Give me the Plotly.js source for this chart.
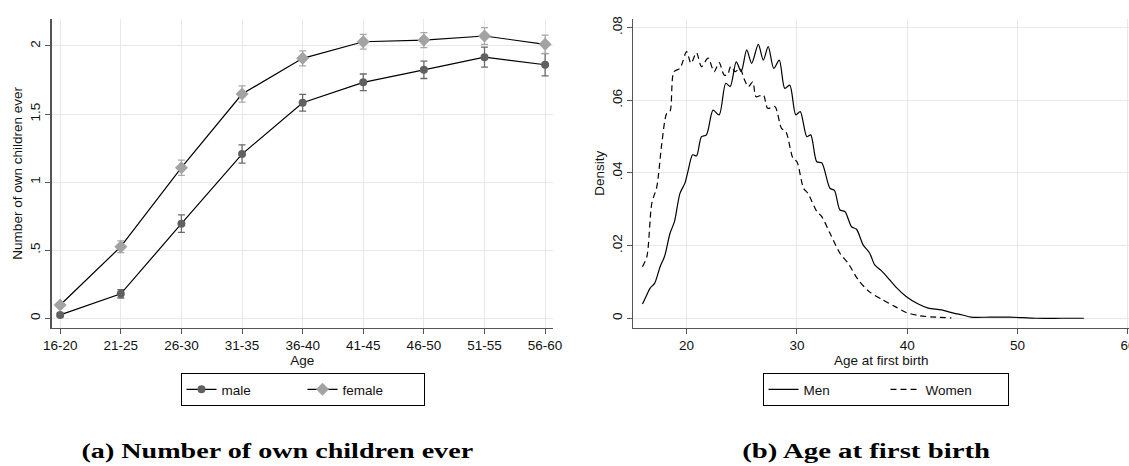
<!DOCTYPE html>
<html>
<head>
<meta charset="utf-8">
<script src="https://cdn.plot.ly/plotly-3.0.1.min.js"></script>
<style>
html,body{margin:0;padding:0;background:#fff;}
#chart{width:1129px;height:466px;}
</style>
</head>
<body>
<div id="chart"></div>
<script>
// ---- Panel (a): number of own children ever ----
const ageGroups = ["16-20","21-25","26-30","31-35","36-40","41-45","46-50","51-55","56-60"];
const maleMean   = [0.025, 0.18, 0.695, 1.206, 1.583, 1.733, 1.825, 1.918, 1.862];
const maleCI     = [0.012, 0.031, 0.064, 0.067, 0.062, 0.061, 0.064, 0.073, 0.081];
const femaleMean = [0.098, 0.526, 1.106, 1.647, 1.909, 2.031, 2.043, 2.073, 2.012];
const femaleCI   = [0.015, 0.043, 0.056, 0.060, 0.055, 0.054, 0.055, 0.062, 0.067];
const yTicksA = [0, 0.5, 1, 1.5, 2];
const yTickTextA = ["0", ".5", "1", "1.5", "2"];

// ---- Panel (b): age at first birth (kernel density) ----
const menAge = [16.0,16.4,16.7,17.1,17.6,18.0,18.5,18.9,19.4,19.85,20.15,20.55,20.9,21.35,21.8,22.4,22.95,23.55,23.95,24.5,24.95,25.45,25.9,26.5,26.95,27.4,27.9,28.4,28.9,29.35,29.9,30.3,30.9,31.25,31.8,32.25,33.0,33.4,33.9,34.35,34.95,35.4,36.0,36.6,37.05,37.65,38.4,39.0,39.9,41.0,41.9,43.1,44.2,45.0,45.8,47.5,49.3,51.7,54.0,56.0];
const menDensity = [0.0039,0.0065,0.0083,0.0096,0.0142,0.017,0.0234,0.0266,0.0344,0.0372,0.0408,0.045,0.0447,0.050,0.0505,0.0573,0.056,0.0647,0.0638,0.0706,0.0679,0.0739,0.0702,0.0754,0.0711,0.0748,0.0688,0.0711,0.0633,0.0642,0.056,0.0569,0.050,0.0505,0.0431,0.0428,0.0358,0.0352,0.0298,0.0294,0.0252,0.0245,0.0202,0.0179,0.0147,0.0131,0.0106,0.0085,0.006,0.0039,0.0028,0.0023,0.0014,0.0009,0.0003,0.0003,0.0003,0.0,0.0,0.0];
const womenAge = [16.0,16.4,16.85,17.3,17.75,18.2,18.5,18.85,19.4,20.0,20.4,20.9,21.35,21.95,22.5,22.95,23.4,23.7,24.0,24.4,24.85,25.2,25.6,26.0,26.3,26.95,27.35,28.0,28.6,29.0,29.65,30.0,30.6,31.0,31.8,32.25,33.0,33.9,34.65,35.55,36.6,37.7,38.9,39.9,41.1,42.6,44.0];
const womenDensity = [0.0142,0.017,0.0317,0.0362,0.048,0.0564,0.057,0.0679,0.0688,0.0734,0.0702,0.0731,0.0693,0.0716,0.0679,0.0704,0.067,0.067,0.0693,0.0679,0.0688,0.066,0.0638,0.0651,0.061,0.0615,0.0578,0.0583,0.0523,0.0514,0.044,0.0431,0.0358,0.0344,0.0294,0.028,0.0234,0.0179,0.0151,0.0106,0.0072,0.0052,0.0032,0.0016,0.0007,0.0003,0.0001];
const yTicksB = [0, 0.02, 0.04, 0.06, 0.08];
const yTickTextB = ["0", ".02", ".04", ".06", ".08"];
const xTicksB = [20, 30, 40, 50, 60];

const captionA = "(a) Number of own children ever";
const captionB = "(b) Age at first birth";

const FONT = "Liberation Sans, Arial, Helvetica, sans-serif";
const SERIF = "Liberation Serif, Times New Roman, serif";
const FS = 13.5;
const gridC = "#e8e8e8";
const axisC = "#555555";

const traces = [
  {x: ageGroups, y: maleMean, name: "male", type: "scatter", mode: "lines+markers",
   xaxis: "x", yaxis: "y", legend: "legend",
   line: {color: "#000", width: 1.2},
   marker: {symbol: "circle", size: 8, color: "#606060"},
   error_y: {type: "data", array: maleCI, visible: true, color: "#6a6a6a", thickness: 1.3, width: 3.5}},
  {x: ageGroups, y: femaleMean, name: "female", type: "scatter", mode: "lines+markers",
   xaxis: "x", yaxis: "y", legend: "legend",
   line: {color: "#000", width: 1.2},
   marker: {symbol: "diamond", size: 10, color: "#a3a3a3"},
   error_y: {type: "data", array: femaleCI, visible: true, color: "#a8a8a8", thickness: 1.3, width: 3.5}},
  {x: menAge, y: menDensity, name: "Men", type: "scatter", mode: "lines",
   xaxis: "x2", yaxis: "y2", legend: "legend2",
   line: {color: "#000", width: 1.2, shape: "spline", smoothing: 0.8}},
  {x: womenAge, y: womenDensity, name: "Women", type: "scatter", mode: "lines",
   xaxis: "x2", yaxis: "y2", legend: "legend2",
   line: {color: "#000", width: 1.2, dash: "6px,4px", shape: "spline", smoothing: 0.8}}
];

const W = 1129, H = 466;
const yDom = [1 - 327.7 / H, 1 - 19 / H];

const commonAxis = {
  showgrid: true, gridcolor: gridC, gridwidth: 1,
  showline: true, linecolor: axisC, linewidth: 1.3,
  ticks: "outside", ticklen: 5, tickcolor: axisC, tickwidth: 1,
  zeroline: false, tickfont: {family: FONT, size: FS, color: "#111"},
  fixedrange: true
};

const legendCommon = {
  orientation: "h", xanchor: "center", y: 1 - 373 / H, yanchor: "top",
  bordercolor: "#000", borderwidth: 1, bgcolor: "#fff",
  entrywidthmode: "pixels",
  font: {family: FONT, size: FS, color: "#111"}, itemclick: false, itemdoubleclick: false
};

const layout = {
  width: W, height: H,
  margin: {l: 0, r: 0, t: 0, b: 0},
  paper_bgcolor: "#fff", plot_bgcolor: "#fff",
  font: {family: FONT, size: FS, color: "#111"},
  xaxis: Object.assign({}, commonAxis, {
    domain: [51.7 / W, 553 / W], anchor: "y",
    type: "category", range: [-0.14, 8.13],
    title: {text: "Age", font: {family: FONT, size: FS}, standoff: 2}
  }),
  yaxis: Object.assign({}, commonAxis, {
    domain: yDom, anchor: "x",
    range: [-0.069, 2.198], tickvals: yTicksA, ticktext: yTickTextA, tickangle: -90,
    title: {text: "Number of own children ever", font: {family: FONT, size: FS}, standoff: 2}
  }),
  xaxis2: Object.assign({}, commonAxis, {
    domain: [633.3 / W, 1], anchor: "y2",
    range: [15.17, 60.1], tickvals: xTicksB, ticklabeloverflow: "allow",
    title: {text: "Age at first birth", font: {family: FONT, size: FS}, standoff: 2}
  }),
  yaxis2: Object.assign({}, commonAxis, {
    domain: yDom, anchor: "x2",
    range: [-0.0026, 0.0824], tickvals: yTicksB, ticktext: yTickTextB, tickangle: -90,
    title: {text: "Density", font: {family: FONT, size: FS}, standoff: 2}
  }),
  legend: Object.assign({}, legendCommon, {x: 302.5 / W, entrywidth: 76}),
  legend2: Object.assign({}, legendCommon, {x: 885.5 / W, entrywidth: 77}),
  showlegend: true,
  annotations: [
    {text: "<b>" + captionA + "</b>", xref: "paper", yref: "paper", x: 277 / W, y: 1 - 451 / H,
     xanchor: "center", yanchor: "middle", showarrow: false,
     font: {family: SERIF, size: 20, color: "#000"}},
    {text: "<b>" + captionB + "</b>", xref: "paper", yref: "paper", x: 866 / W, y: 1 - 451 / H,
     xanchor: "center", yanchor: "middle", showarrow: false,
     font: {family: SERIF, size: 20, color: "#000"}}
  ]
};

// target caption widths measured on the reference (the captions there are horizontally stretched)
const captionWidths = [392, 248];

Plotly.newPlot("chart", traces, layout, {displayModeBar: false, staticPlot: true}).then(function (gd) {
  const texts = gd.querySelectorAll("g.annotation text.annotation-text");
  texts.forEach(function (t, i) {
    const bb = t.getBBox();
    if (!bb.width) return;
    const sx = captionWidths[i] / bb.width;
    const cx = bb.x + bb.width / 2;
    const prev = t.getAttribute("transform") || "";
    t.setAttribute("transform", prev + " translate(" + cx + ",0) scale(" + sx + ",1) translate(" + (-cx) + ",0)");
  });
});
</script>
</body>
</html>
